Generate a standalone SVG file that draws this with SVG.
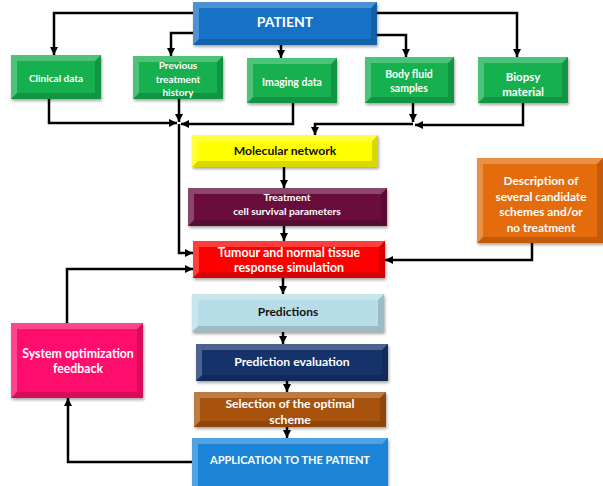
<svg xmlns="http://www.w3.org/2000/svg" width="603" height="486" viewBox="0 0 603 486">
<defs>
<style>
text{font-family:Lato,"Liberation Sans",sans-serif;font-weight:bold;text-anchor:middle;fill:#fff}
.dk{fill:#111}
.hi{fill:#fff;fill-opacity:.24}
.lo{fill:#000;fill-opacity:.15}
.c{fill:none;stroke:#000;stroke-width:2.5;marker-end:url(#ah)}
</style>
<marker id="ah" markerUnits="userSpaceOnUse" markerWidth="10" markerHeight="10" refX="8" refY="4" orient="auto">
<path d="M0,0 L8,4 L0,8 Z" fill="#000"/>
</marker>
<filter id="sh" x="-10%" y="-10%" width="120%" height="130%">
<feDropShadow dx="1" dy="2" stdDeviation="1.5" flood-opacity="0.35"/>
</filter>
</defs>
<rect width="603" height="486" fill="#fff"/>

<g id="connectors">
<path class="c" d="M193,13 H54 V55"/>
<path class="c" d="M193,33 H171 V56"/>
<path class="c" d="M281,45 V58"/>
<path class="c" d="M377,35 H406 V57"/>
<path class="c" d="M377,13 H517 V57"/>
<path class="c" d="M49,99 V123 H177"/>
<path class="c" d="M179,99 V122"/>
<path class="c" d="M293,103 V124 H181"/>
<path class="c" d="M179,124 V253 H193"/>
<path class="c" d="M413,103 V122"/>
<path class="c" d="M523,103 V125 H415"/>
<path class="c" d="M413,124 H315 V135"/>
<path class="c" d="M284,167 V188"/>
<path class="c" d="M284,226 V241"/>
<path class="c" d="M532,243 V260 H385"/>
<path class="c" d="M283,278 V294"/>
<path class="c" d="M283,332 V344"/>
<path class="c" d="M287,381 V392"/>
<path class="c" d="M287,427 V438"/>
<path class="c" d="M192,462 H68 V398"/>
<path class="c" d="M67,323 V269 H193"/>
</g>

<g id="patient">
<rect x="193" y="2" width="184" height="43" fill="#1872c6" filter="url(#sh)"/>
<path class="hi" d="M193,2 H377 L371,8 H199 V39 L193,45 Z"/>
<path class="lo" d="M377,2 V45 H193 L199,39 H371 V8 Z"/>
<text x="285" y="27" font-size="14">PATIENT</text>
</g>

<g id="clinical">
<rect x="11" y="55" width="90" height="44" fill="#19b050" filter="url(#sh)"/>
<path class="hi" d="M11,55 H101 L95,61 H17 V93 L11,99 Z"/>
<path class="lo" d="M101,55 V99 H11 L17,93 H95 V61 Z"/>
<text x="56" y="82" font-size="10">Clinical data</text>
</g>

<g id="previous">
<rect x="133" y="56" width="90" height="43" fill="#19b050" filter="url(#sh)"/>
<path class="hi" d="M133,56 H223 L217,62 H139 V93 L133,99 Z"/>
<path class="lo" d="M223,56 V99 H133 L139,93 H217 V62 Z"/>
<text x="178" y="69" font-size="10">Previous</text>
<text x="178" y="83" font-size="10">treatment</text>
<text x="178" y="96" font-size="10">history</text>
</g>

<g id="imaging">
<rect x="247" y="58" width="90" height="45" fill="#19b050" filter="url(#sh)"/>
<path class="hi" d="M247,58 H337 L331,64 H253 V97 L247,103 Z"/>
<path class="lo" d="M337,58 V103 H247 L253,97 H331 V64 Z"/>
<text x="292" y="86" font-size="10.5">Imaging data</text>
</g>

<g id="bodyfluid">
<rect x="365" y="57" width="89" height="46" fill="#19b050" filter="url(#sh)"/>
<path class="hi" d="M365,57 H454 L448,63 H371 V97 L365,103 Z"/>
<path class="lo" d="M454,57 V103 H365 L371,97 H448 V63 Z"/>
<text x="409" y="78" font-size="10.5">Body fluid</text>
<text x="409" y="92" font-size="10.5">samples</text>
</g>

<g id="biopsy">
<rect x="478" y="57" width="90" height="46" fill="#19b050" filter="url(#sh)"/>
<path class="hi" d="M478,57 H568 L562,63 H484 V97 L478,103 Z"/>
<path class="lo" d="M568,57 V103 H478 L484,97 H562 V63 Z"/>
<text x="523" y="81" font-size="11.5">Biopsy</text>
<text x="523" y="96" font-size="11.5">material</text>
</g>

<g id="molecular">
<rect x="192" y="135" width="186" height="32" fill="#ffff00" filter="url(#sh)"/>
<path class="hi" d="M192,135 H378 L372,141 H198 V161 L192,167 Z"/>
<path class="lo" d="M378,135 V167 H192 L198,161 H372 V141 Z"/>
<text class="dk" x="285" y="155" font-size="12.2">Molecular network</text>
</g>

<g id="treatment">
<rect x="188" y="188" width="199" height="38" fill="#6a0a3c" filter="url(#sh)"/>
<path class="hi" d="M188,188 H387 L381,194 H194 V220 L188,226 Z"/>
<path class="lo" d="M387,188 V226 H188 L194,220 H381 V194 Z"/>
<text x="287" y="201" font-size="10.3">Treatment</text>
<text x="287" y="215" font-size="10.3">cell survival parameters</text>
</g>

<g id="tumour">
<rect x="193" y="241" width="192" height="37" fill="#ff0000" filter="url(#sh)"/>
<path class="hi" d="M193,241 H385 L379,247 H199 V272 L193,278 Z"/>
<path class="lo" d="M385,241 V278 H193 L199,272 H379 V247 Z"/>
<text x="289" y="257" font-size="12.4">Tumour and normal tissue</text>
<text x="289" y="272" font-size="12.4">response simulation</text>
</g>

<g id="description">
<rect x="477" y="158" width="126" height="85" fill="#e46c0a" filter="url(#sh)"/>
<path class="hi" d="M477,158 H603 L597,164 H483 V237 L477,243 Z"/>
<path class="lo" d="M603,158 V243 H477 L483,237 H597 V164 Z"/>
<text x="541" y="185" font-size="11.8">Description of</text>
<text x="541" y="201" font-size="11.8">several candidate</text>
<text x="541" y="216" font-size="11.8">schemes and/or</text>
<text x="541" y="232" font-size="11.8">no treatment</text>
</g>

<g id="predictions">
<rect x="192" y="294" width="192" height="38" fill="#b7dde8" filter="url(#sh)"/>
<path class="hi" d="M192,294 H384 L378,300 H198 V326 L192,332 Z"/>
<path class="lo" d="M384,294 V332 H192 L198,326 H378 V300 Z"/>
<text class="dk" x="288" y="316" font-size="12">Predictions</text>
</g>

<g id="evaluation">
<rect x="196" y="344" width="192" height="37" fill="#14306a" filter="url(#sh)"/>
<path class="hi" d="M196,344 H388 L382,350 H202 V375 L196,381 Z"/>
<path class="lo" d="M388,344 V381 H196 L202,375 H382 V350 Z"/>
<text x="292" y="366" font-size="12.2">Prediction evaluation</text>
</g>

<g id="selection">
<rect x="194" y="392" width="192" height="35" fill="#a8520f" filter="url(#sh)"/>
<path class="hi" d="M194,392 H386 L380,398 H200 V421 L194,427 Z"/>
<path class="lo" d="M386,392 V427 H194 L200,421 H380 V398 Z"/>
<text x="290" y="408" font-size="12.2">Selection of the optimal</text>
<text x="290" y="424" font-size="12.2">scheme</text>
</g>

<g id="application">
<rect x="192" y="438" width="196" height="50" fill="#1a84d6" filter="url(#sh)"/>
<path class="hi" d="M192,438 H388 L382,444 H198 V486 L192,486 Z"/>
<text x="290" y="464" font-size="11">APPLICATION TO THE PATIENT</text>
</g>

<g id="system">
<rect x="11" y="323" width="132" height="75" fill="#ff0a6c" filter="url(#sh)"/>
<path class="hi" d="M11,323 H143 L137,329 H17 V392 L11,398 Z"/>
<path class="lo" d="M143,323 V398 H11 L17,392 H137 V329 Z"/>
<text x="78" y="358" font-size="12.3">System optimization</text>
<text x="78" y="373" font-size="12.3">feedback</text>
</g>
</svg>
